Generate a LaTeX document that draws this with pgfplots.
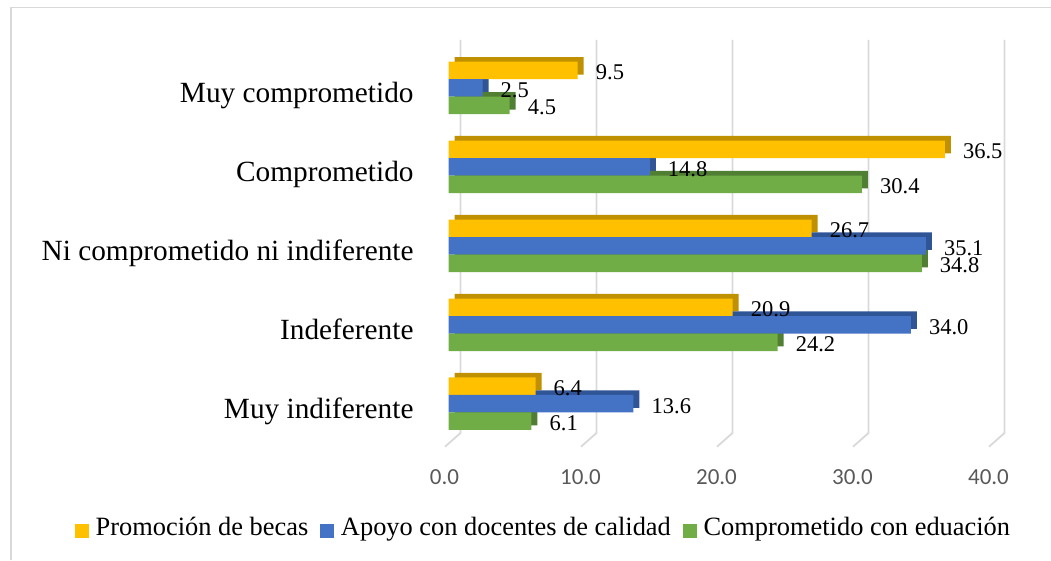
\documentclass[border=0pt]{standalone}
\usepackage{fontspec}
\setmainfont{Liberation Serif}
\newfontfamily\calibri{Carlito}
\usepackage{pgfplots}
\usepackage{pgfplotstable}
\pgfplotsset{compat=1.18}
\definecolor{cy}{HTML}{FFC000}
\definecolor{cb}{HTML}{4472C4}
\definecolor{cg}{HTML}{70AD47}
\definecolor{dy}{HTML}{BF9000}
\definecolor{db}{HTML}{2F5597}
\definecolor{dg}{HTML}{507E32}
\definecolor{gridc}{HTML}{D9D9D9}
\definecolor{tickc}{HTML}{595959}

\pgfplotstableread{
y becas docentes educacion
0 6.4 13.6 6.1
1 20.9 34.0 24.2
2 26.7 35.1 34.8
3 36.5 14.8 30.4
4 9.5 2.5 4.5
}\datatable

\begin{document}
\begin{tikzpicture}
\draw[gridc, line width=1.2pt] (11pt,0pt) -- (11pt,552.7pt) -- (1051pt,552.7pt);
\begin{axis}[
  at={(448.5pt,116.8pt)}, anchor=south west,
  scale only axis, width=544pt, height=394.7pt,
  xmin=0, xmax=40, ymin=-0.5, ymax=4.5,
  xbar, bar width=17.5pt,
  clip=false,
  axis line style={draw=none}, tick style={draw=none},
  xtick={0,10,20,30,40},
  xticklabels={0.0,10.0,20.0,30.0,40.0},
  xticklabel style={font=\calibri\fontsize{23}{27}\selectfont, text=tickc, anchor=base, inner sep=0pt, xshift=-4pt, yshift=-40.8pt},
  ytick={0,1,2,3,4},
  yticklabels={Muy indiferente, Indeferente, Ni comprometido ni indiferente, Comprometido, Muy comprometido},
  yticklabel style={font=\fontsize{29.3}{33}\selectfont, anchor=base east, inner sep=0pt, xshift=-30.5pt, yshift=-14.7pt},
  legend columns=3,
  legend style={at={(axis description cs:-0.6866,-0.2116)}, anchor=west, draw=none, fill=none, inner sep=0pt, outer sep=0pt,
    nodes={inner sep=0pt}, font=\fontsize{26.4}{30}\selectfont,
    /tikz/every odd column/.append style={column sep=7pt},
    /tikz/every even column/.append style={column sep=12pt}},
  legend image code/.code={\path[fill=none,draw=none] (0pt,-12pt) rectangle (13.7pt,12pt); \fill[#1] (0pt,-11.35pt) rectangle (13.7pt,2.35pt);},
  label dat/.style={nodes near coords={\pgfmathprintnumber[fixed,fixed zerofill,precision=1,assume math mode=true]{\pgfplotspointmeta}},
    point meta=x,
    every node near coord/.append style={font=\fontsize{22.5}{26}\selectfont, text=black, anchor=west, inner sep=0pt, xshift=18pt, yshift=-2pt}},
]
\pgfplotsinvokeforeach{0,10,20,30,40}{
  \draw[gridc, line width=1.8pt] (axis cs:#1,4.5) ++(12pt,8.5pt) -- ++(0pt,-393pt) -- ++(-15.5pt,-13.7pt);
}
% back (3D side and top faces)
\addplot[fill=dy, draw=none, bar shift=17.5pt, xshift=6pt, yshift=4.7pt, forget plot] table[x=becas,y=y]{\datatable};
\addplot[fill=db, draw=none, bar shift=0pt, xshift=6pt, yshift=4.7pt, forget plot] table[x=docentes,y=y]{\datatable};
\addplot[fill=dg, draw=none, bar shift=-17.5pt, xshift=6pt, yshift=4.7pt, forget plot] table[x=educacion,y=y]{\datatable};
% front faces
\addplot[fill=cy, draw=none, bar shift=17.5pt, label dat] table[x=becas,y=y]{\datatable};
\addplot[fill=cb, draw=none, bar shift=0pt, label dat] table[x=docentes,y=y]{\datatable};
\addplot[fill=cg, draw=none, bar shift=-17.5pt, label dat] table[x=educacion,y=y]{\datatable};
\legend{Promoción de becas, Apoyo con docentes de calidad, Comprometido con eduación}
\end{axis}
\pgfresetboundingbox
\useasboundingbox (0pt,0pt) rectangle (1051pt,560pt);
\end{tikzpicture}
\end{document}
